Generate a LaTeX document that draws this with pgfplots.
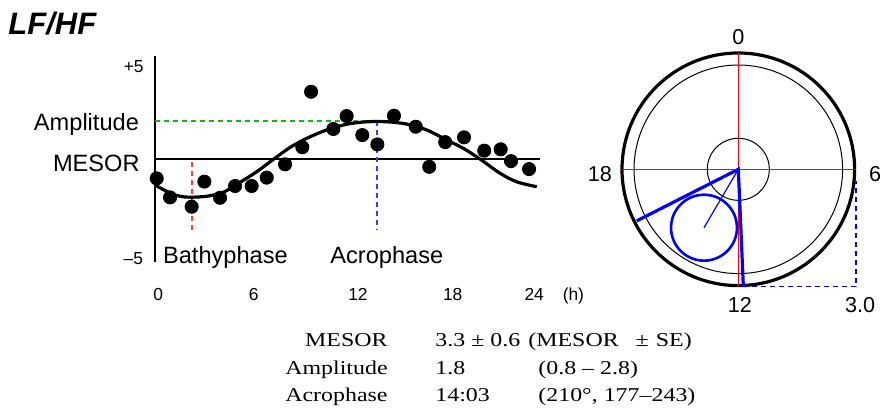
\documentclass[border=0pt]{standalone}
\usepackage{fontspec}
\setmainfont{Liberation Sans}
\newfontfamily\tabfont[FakeStretch=1.22]{Liberation Serif}
\usepackage{pgfplots}
\pgfplotsset{compat=1.18}
\definecolor{ampgreen}{RGB}{40,170,40}
\definecolor{bathred}{RGB}{255,60,60}
\definecolor{acroblue}{RGB}{60,60,255}

\begin{document}
\begin{tikzpicture}[x=1pt,y=1pt]
\path[use as bounding box] (0,0) rectangle (443,-208.5);
\node[anchor=base west, inner sep=0, font=\fontsize{15.5}{18}\selectfont\bfseries\itshape] at (4,-17.5) {LF/HF};

% cosinor fit over 24 h
\begin{axis}[
  at={(77.5pt,-150pt)}, anchor=south west,
  x=7.835pt, y=9.5pt,
  xmin=0, xmax=27.5, ymin=-7.42, ymax=5.6,
  axis line style={draw=none},
  ytick=\empty,
  xtick={0.2,6.3,12.95,19,24.2,26.7},
  xticklabels={0,6,12,18,24,(h)},
  major tick length=0pt,
  xticklabel style={anchor=base, inner sep=0pt, font=\fontsize{8.7}{10}\selectfont},
  clip=false,
]
\addplot[black, line width=1.2pt] coordinates {(0,-5.42) (0,5.42)};
\addplot[black, line width=1.2pt] coordinates {(0,0) (24.6,0)};
\addplot[ampgreen, dash pattern=on 2.5pt off 2pt, line width=0.7pt] coordinates {(0,2) (14.15,2)};
\addplot[acroblue, dash pattern=on 2.5pt off 2pt, line width=0.9pt] coordinates {(14.15,2) (14.15,-3.74)};
\addplot[bathred, dash pattern=on 2.5pt off 2pt, line width=0.9pt] coordinates {(2.34,-0.15) (2.34,-3.74)};
\addplot[black, line width=1.6pt, smooth] coordinates {
  (0,-1.37) (0.96,-1.79) (1.6,-1.96) (2.23,-2.01) (3.3,-1.96) (4.36,-1.75)
  (5.42,-1.23) (6.49,-0.67) (7.55,-0.02) (8.62,0.61) (9.68,1.09) (10.96,1.53)
  (12.23,1.83) (13.51,1.96) (14.79,1.96) (16.06,1.84) (17.34,1.53) (18.62,1.0)
  (19.68,0.56) (20.74,0.0) (22.02,-0.75) (23.08,-1.2) (24.36,-1.46)};
\addplot[only marks, mark=*, mark size=3.3pt, black] coordinates {
  (0.11,-1.02) (0.96,-2.02) (2.34,-2.51) (3.15,-1.19) (4.15,-2.04) (5.11,-1.42)
  (6.17,-1.42) (7.13,-0.98) (8.30,-0.28) (9.40,0.62) (9.96,3.54) (11.38,1.58)
  (12.23,2.26) (13.23,1.26) (14.19,0.77) (15.25,2.28) (16.64,1.70) (17.50,-0.41)
  (18.52,0.89) (19.72,1.14) (21.01,0.44) (22.06,0.51) (22.72,-0.11) (23.87,-0.53)};
\node[anchor=base east, inner sep=0, font=\fontsize{8.7}{10}\selectfont] at (axis cs:-0.70,4.54) {+5};
\node[anchor=base east, inner sep=0, font=\fontsize{11.8}{14}\selectfont] at (axis cs:-1.0,1.49) {Amplitude};
\node[anchor=base east, inner sep=0, font=\fontsize{11.8}{14}\selectfont] at (axis cs:-0.96,-0.67) {MESOR};
\node[anchor=base east, inner sep=0, font=\fontsize{8.7}{10}\selectfont] at (axis cs:-0.74,-5.53) {\textendash 5};
\node[anchor=base west, inner sep=0, font=\fontsize{11.8}{14}\selectfont] at (axis cs:0.49,-5.49) {Bathyphase};
\node[anchor=base west, inner sep=0, font=\fontsize{11.8}{14}\selectfont] at (axis cs:11.17,-5.49) {Acrophase};
\end{axis}

% polar cosinor plot
\begin{axis}[
  at={(369.15pt,-84.65pt)}, anchor=center,
  x=19.385pt, y=19.385pt,
  xmin=-3, xmax=3, ymin=-3, ymax=3,
  hide axis, clip=false,
]
\draw[line width=1.6pt] (axis cs:0,0) circle[radius=3];
\draw[line width=0.5pt] (axis cs:0,0) circle[radius=2.69];
\draw[line width=0.5pt] (axis cs:0,0) circle[radius=0.8];
\addplot[red, line width=0.5pt] coordinates {(-3,0) (3,0)};
\addplot[red, line width=0.5pt] coordinates {(0,-3) (0,3)};
\addplot[blue, dash pattern=on 2.5pt off 2pt, line width=0.7pt] coordinates {(0.13,-3.03) (3.04,-3.03) (3.04,-0.30)};
\draw[blue, line width=1.3pt] (axis cs:-0.885,-1.506) circle[radius=0.85];
\addplot[blue, line width=0.6pt] coordinates {(0,0) (-0.885,-1.506)};
\addplot[blue, line width=1.6pt] coordinates {(-2.62,-1.33) (0,0) (0.13,-3.03)};
\node[font=\fontsize{10.8}{13}\selectfont] at (axis cs:0,3.42) {0};
\node[font=\fontsize{10.8}{13}\selectfont] at (axis cs:-3.57,-0.13) {18};
\node[font=\fontsize{10.8}{13}\selectfont] at (axis cs:3.53,-0.13) {6};
\node[font=\fontsize{10.8}{13}\selectfont] at (axis cs:0.04,-3.49) {12};
\node[font=\fontsize{10.8}{13}\selectfont] at (axis cs:3.14,-3.49) {3.0};
\end{axis}

% fitted parameters
\begin{scope}[every node/.style={inner sep=0, font=\tabfont\fontsize{9.8}{12}\selectfont}]
\node[anchor=base east] at (194,-173.3) {MESOR};
\node[anchor=base east] at (194,-187.2) {Amplitude};
\node[anchor=base east] at (194,-200.8) {Acrophase};
\node[anchor=base west] at (217.5,-173.3) {3.3 ± 0.6};
\node[anchor=base west] at (217.5,-187.2) {1.8};
\node[anchor=base west] at (217.5,-200.8) {14:03};
\node[anchor=base west] at (264,-173.3) {(MESOR\hspace{8.5pt}±\hspace{3.5pt}SE)};
\node[anchor=base west] at (269,-187.2) {(0.8 – 2.8)};
\node[anchor=base west] at (269,-200.8) {(210°, 177–243)};
\end{scope}
\end{tikzpicture}
\end{document}
